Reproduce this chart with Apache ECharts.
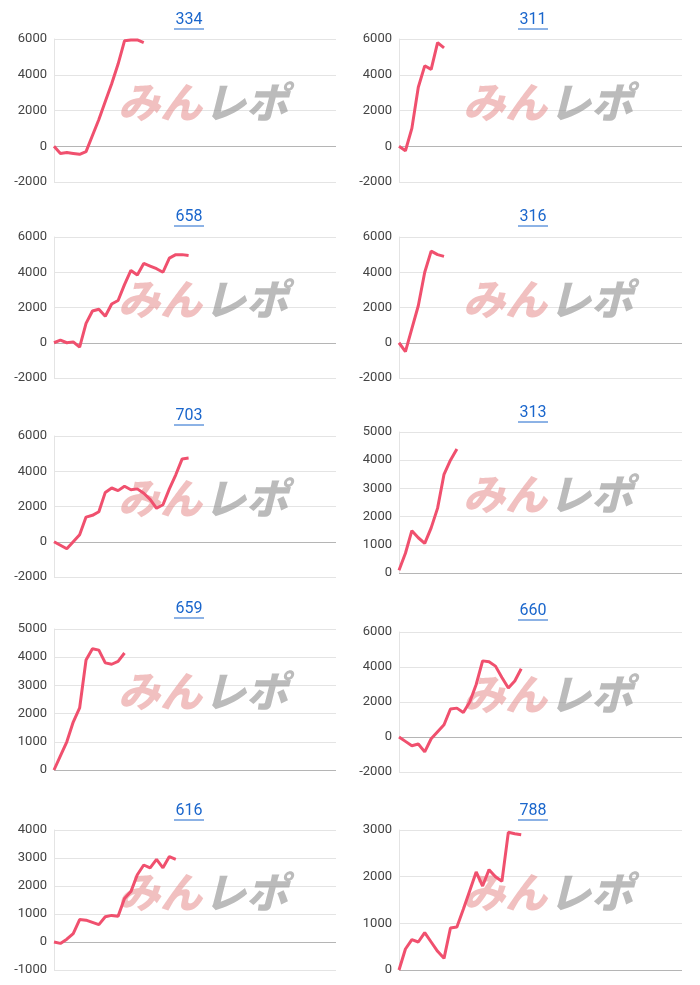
<!DOCTYPE html>
<html>
<head>
<meta charset="utf-8">
<script src="https://cdn.jsdelivr.net/npm/echarts@6/dist/echarts.min.js"></script>
<style>
    html, body {margin: 0; padding: 0; background: #fff;}
    #chart {width: 700px; height: 985px;}
</style>
</head>
<body>
<div id="chart"></div>
<script>
// machine numbers (titles)
const names = ['334', '311', '658', '316', '703', '313', '659', '660', '616', '788'];

// cumulative difference per machine
const s334 = [0, -400, -350, -400, -450, -300, 600, 1500, 2500, 3500, 4600, 5900, 5950, 5950, 5800];
const s311 = [0, -250, 1000, 3300, 4500, 4300, 5800, 5500];
const s658 = [0, 150, 0, 50, -250, 1100, 1800, 1900, 1500, 2200, 2400, 3300, 4100, 3850, 4500, 4350, 4200, 4000, 4800, 5000, 5000, 4950];
const s316 = [0, -500, 800, 2100, 4000, 5200, 5000, 4900];
const s703 = [0, -200, -400, 0, 400, 1400, 1500, 1700, 2800, 3050, 2900, 3150, 2950, 3000, 2750, 2400, 1900, 2100, 3000, 3800, 4700, 4750];
const s313 = [100, 700, 1500, 1250, 1050, 1600, 2300, 3500, 4000, 4400];
const s659 = [0, 500, 1000, 1700, 2200, 3900, 4300, 4250, 3800, 3750, 3850, 4150];
const s660 = [0, -250, -500, -400, -850, -100, 300, 700, 1600, 1650, 1400, 2000, 3000, 4350, 4300, 4050, 3400, 2800, 3200, 3900];
const s616 = [0, -50, 100, 300, 800, 780, 700, 620, 900, 950, 920, 1550, 1800, 2400, 2750, 2650, 2950, 2650, 3050, 2950];
const s788 = [0, 450, 650, 600, 800, 600, 400, 250, 900, 920, 1300, 1700, 2100, 1800, 2150, 2000, 1900, 2950, 2920, 2900];

const series = [s334, s311, s658, s316, s703, s313, s659, s660, s616, s788];

// y axis ranges [min, max, interval]
const yRanges = [
    [-2000, 6000, 2000], [-2000, 6000, 2000],
    [-2000, 6000, 2000], [-2000, 6000, 2000],
    [-2000, 6000, 2000], [0, 5000, 1000],
    [0, 5000, 1000], [-2000, 6000, 2000],
    [-1000, 4000, 1000], [0, 3000, 1000]
];

const slots = 45;
const xCats = Array.from({length: slots}, (_, i) => i + 1);

// cell layout: [plot top, plot bottom, title y]
const leftBox = [[39, 182, 20], [237, 378, 217], [436, 577, 416], [629, 770, 609], [830, 970, 811]];
const rightBox = [[39, 182, 20], [237, 378, 217], [432, 573, 413], [632, 772, 611], [830, 970, 811]];

const grids = [], xAxes = [], yAxes = [], lines = [], graphics = [];

names.forEach((n, i) => {
    const col = i % 2;
    const row = Math.floor(i / 2);
    const box = col === 0 ? leftBox[row] : rightBox[row];
    const left = col === 0 ? 54 : 399;
    const right = col === 0 ? 336 : 682;
    const cx = col === 0 ? 189 : 533;
    const r = yRanges[i];

    grids.push({left: left, top: box[0], width: right - left, height: box[1] - box[0]});
    xAxes.push({
        type: 'category', gridIndex: i, data: xCats, boundaryGap: false,
        axisLine: {show: false}, axisTick: {show: false}, axisLabel: {show: false},
        splitLine: {show: false}
    });
    yAxes.push({
        type: 'value', gridIndex: i, min: r[0], max: r[1], interval: r[2],
        axisLine: {show: true, lineStyle: {color: '#e4e4e4'}},
        axisTick: {show: false},
        axisLabel: {color: '#444', fontSize: 13, fontFamily: 'Roboto', margin: 7, formatter: v => String(v)},
        splitLine: {lineStyle: {color: '#e4e4e4'}}
    });
    lines.push({
        type: 'line', xAxisIndex: i, yAxisIndex: i, data: series[i],
        symbol: 'none', lineStyle: {color: '#f0506e', width: 3}, z: 5,
        markLine: {
            silent: true, symbol: 'none', label: {show: false},
            lineStyle: {color: '#b5b5b5', type: 'solid', width: 1},
            data: [{yAxis: 0}]
        }
    });
    // title with underline
    graphics.push({
        type: 'text', x: cx, y: box[2], z: 10,
        style: {text: n, fill: '#1a66cc', font: '16px Roboto', textAlign: 'center', textVerticalAlign: 'middle'}
    });
    graphics.push({
        type: 'line', shape: {x1: cx - 15, y1: box[2] + 9, x2: cx + 15, y2: box[2] + 9},
        style: {stroke: '#1a66cc', lineWidth: 1}
    });
    // watermark
    const wy = box[0] + (box[1] - box[0]) * 0.44;
    const wx = left + 64;
    graphics.push({
        type: 'text', x: wx, y: wy, z: 1,
        style: {text: 'みん', fill: 'rgba(232,150,150,0.6)', font: 'italic 900 42px "Noto Sans CJK JP"', textVerticalAlign: 'middle'}
    });
    graphics.push({
        type: 'text', x: wx + 86, y: wy, z: 1,
        style: {text: 'レポ', fill: 'rgba(150,150,150,0.65)', font: 'italic 900 42px "Noto Sans CJK JP"', textVerticalAlign: 'middle'}
    });
});

const chart = echarts.init(document.getElementById('chart'));
chart.setOption({
    animation: false,
    grid: grids,
    xAxis: xAxes,
    yAxis: yAxes,
    series: lines,
    graphic: graphics
});
</script>
</body>
</html>
